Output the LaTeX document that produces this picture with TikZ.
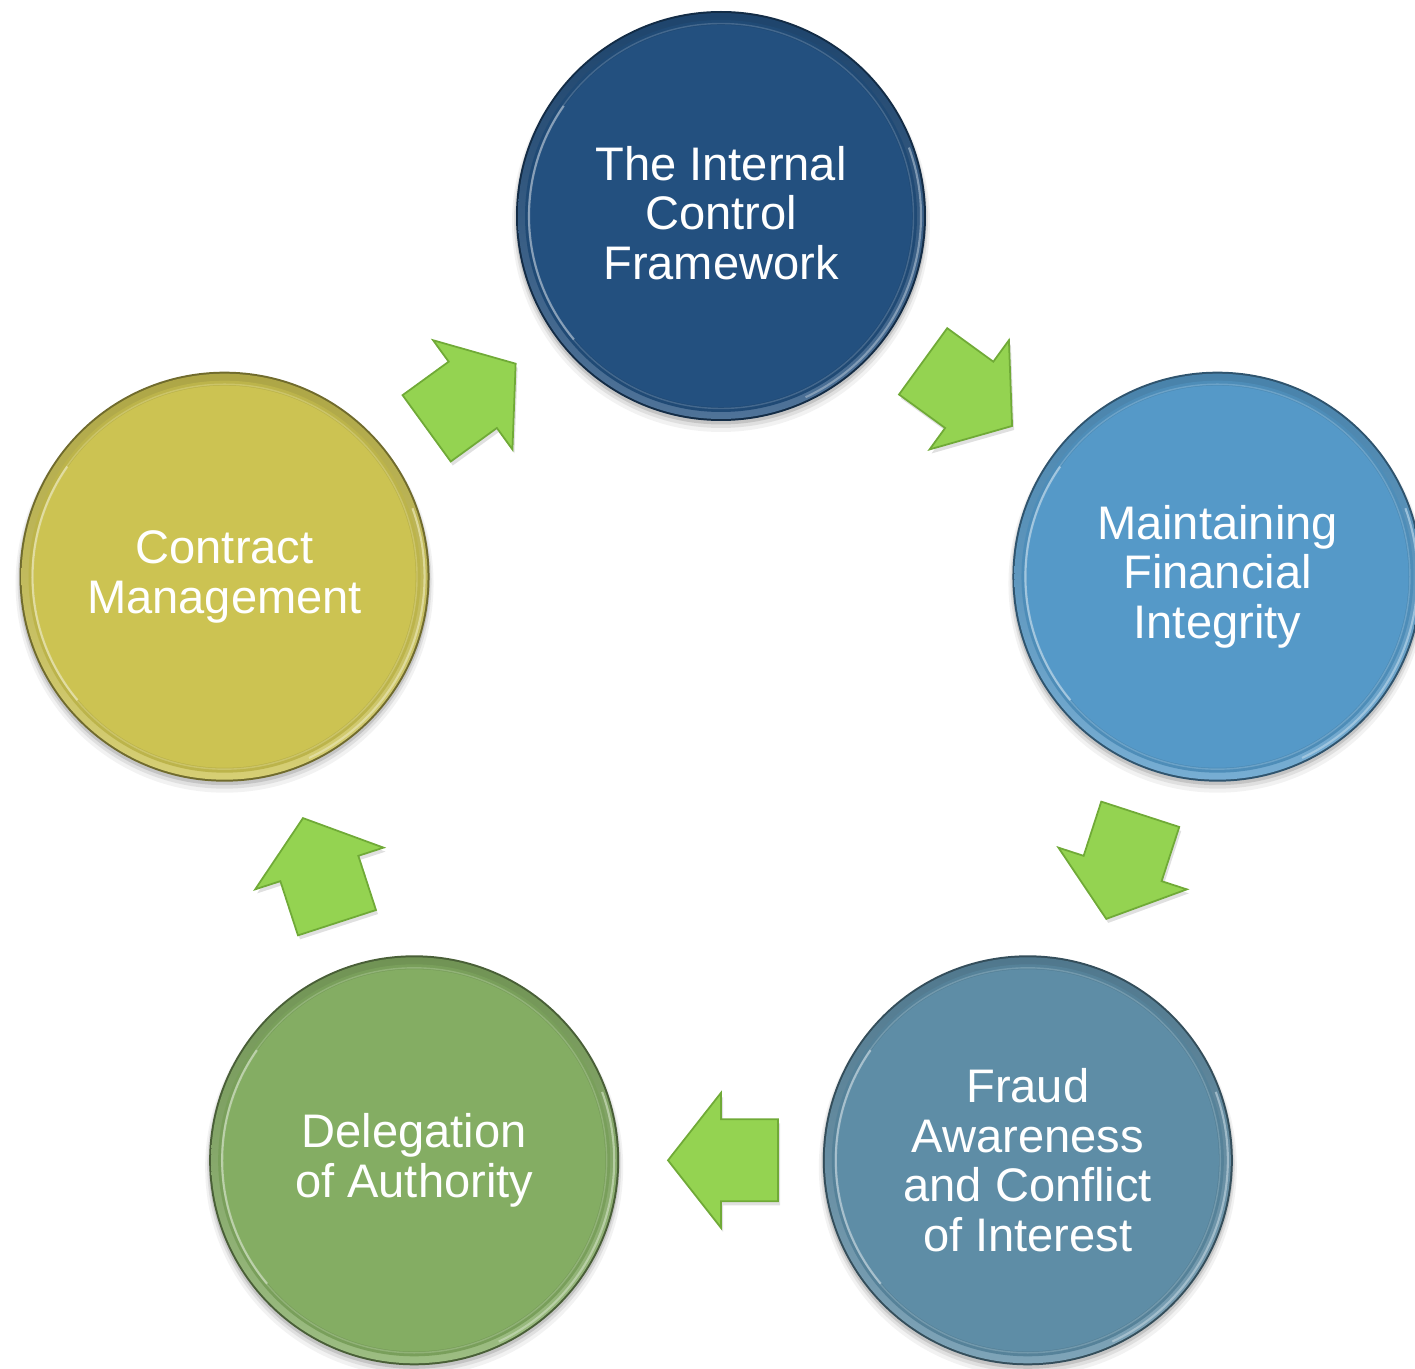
\documentclass[tikz,border=0pt]{standalone}
\usepackage{fontspec}
\setmainfont{Liberation Sans}
\usetikzlibrary{calc}

\definecolor{ctrlblue}{RGB}{35,80,127}
\definecolor{finblue}{RGB}{85,153,200}
\definecolor{fraudblue}{RGB}{94,141,166}
\definecolor{deleggreen}{RGB}{132,173,99}
\definecolor{contractyellow}{RGB}{204,195,82}
\definecolor{arrowgreen}{RGB}{148,211,81}
\definecolor{arrowedge}{RGB}{112,170,55}

\tikzset{
  stagetext/.style={circle, minimum size=41mm, inner sep=0pt, align=center,
    text=white, font=\fontsize{13.4}{14.1}\selectfont},
  blockarrow/.style={fill=arrowgreen, draw=arrowedge, line width=0.5pt, line join=miter},
}

% bevelled disc with soft shadow, centred on a named coordinate
\newcommand\stagedisc[2]{%
  \fill[black, opacity=0.05] ($(#1)+(0,-7)$) circle (20.9mm);
  \fill[black, opacity=0.08] ($(#1)+(0,-5)$) circle (20.7mm);
  \fill[black, opacity=0.12] ($(#1)+(0,-3)$) circle (20.55mm);
  \fill[#2!55!black] (#1) circle (20.5mm);
  \shade[top color=#2!85!black, bottom color=#2!80!white] (#1) circle (20.3mm);
  \fill[#2!92!black] (#1) circle (19.6mm);
  \draw[#2!65!white, line width=0.4pt, opacity=0.45] (#1) circle (19.25mm);
  \fill[#2] (#1) circle (19.1mm);
  \draw[#2!45!white, line width=0.6pt, opacity=0.8] (#1) ++(145:19.2mm)
    arc[start angle=145, end angle=220, radius=19.2mm];
  \draw[#2!50!white, line width=0.6pt, opacity=0.8] (#1) ++(-65:20.0mm)
    arc[start angle=-65, end angle=20, radius=20.0mm];
}

% block arrow half way between two stages, pointing from the first to the second
\newcommand\cyclearrow[3]{%
  \begin{scope}[shift={($(#1)!0.5!(#2)+(2,-4)$)}, rotate=#3]
    \fill[black, opacity=0.12] (-57,-41) -- (0,-41) -- (0,-67.5) -- (53,0)
      -- (0,67.5) -- (0,41) -- (-57,41) -- cycle;
  \end{scope}
  \begin{scope}[shift={($(#1)!0.5!(#2)$)}, rotate=#3]
    \draw[blockarrow] (-57,-41) -- (0,-41) -- (0,-67.5) -- (53,0)
      -- (0,67.5) -- (0,41) -- (-57,41) -- cycle;
  \end{scope}
}

\begin{document}
\begin{tikzpicture}[x=0.1mm, y=0.1mm]
  \useasboundingbox (0,0) rectangle (1415,1369);
  \clip (0,0) rectangle (1415,1369);

  % stage centres on a regular pentagon
  \begin{scope}[shift={(721,631)}]
    \coordinate (pctrl) at (90:522);
    \coordinate (pfin) at (18:522);
    \coordinate (pfraud) at (-54:522);
    \coordinate (pdeleg) at (-126:522);
    \coordinate (pcontract) at (162:522);
  \end{scope}

  \stagedisc{pctrl}{ctrlblue}
  \stagedisc{pfin}{finblue}
  \stagedisc{pfraud}{fraudblue}
  \stagedisc{pdeleg}{deleggreen}
  \stagedisc{pcontract}{contractyellow}

  \node[stagetext] (ctrl) at ($(pctrl)+(0,3)$) {The Internal\\Control\\Framework};
  \node[stagetext] (fin) at (pfin) {Maintaining\\Financial\\Integrity};
  \node[stagetext] (fraud) at (pfraud) {Fraud\\Awareness\\and Conflict\\of Interest};
  \node[stagetext] (deleg) at (pdeleg) {Delegation\\of Authority};
  \node[stagetext] (contract) at (pcontract) {Contract\\Management};

  \cyclearrow{contract}{ctrl}{36}
  \cyclearrow{ctrl}{fin}{-36}
  \cyclearrow{fin}{fraud}{-108}
  \cyclearrow{fraud}{deleg}{180}
  \cyclearrow{deleg}{contract}{108}
\end{tikzpicture}
\end{document}
